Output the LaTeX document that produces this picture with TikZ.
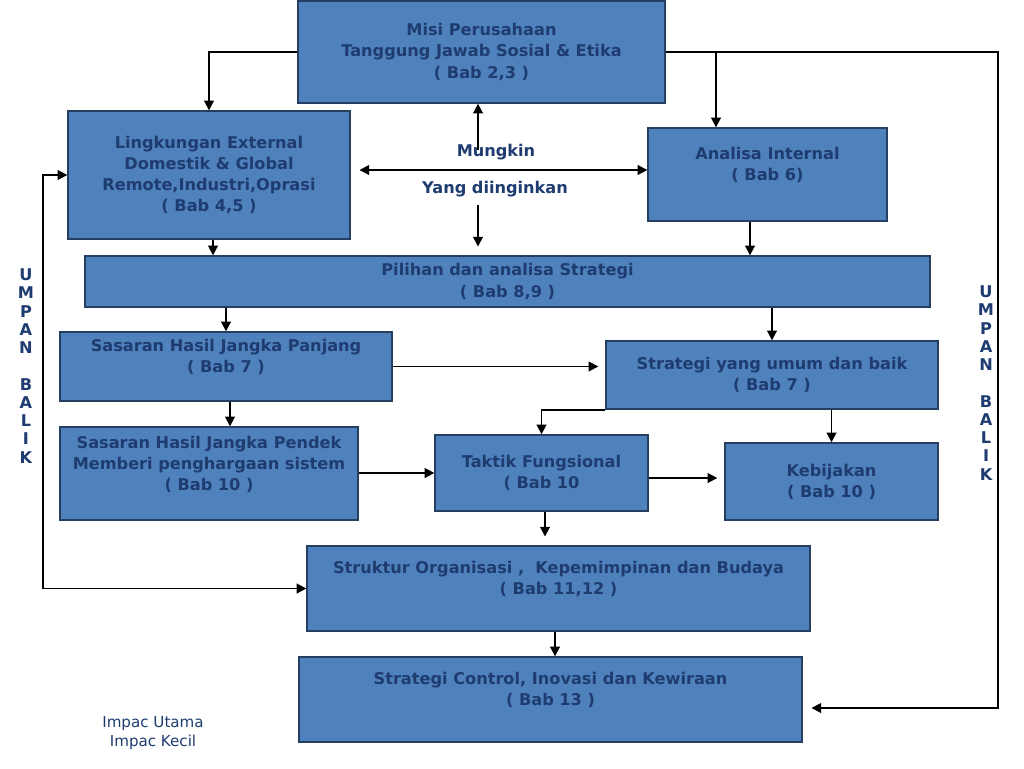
\documentclass[tikz,border=0pt]{standalone}
\usepackage{fontspec}
\setmainfont{DejaVu Sans}
\usetikzlibrary{arrows.meta,positioning}
\definecolor{boxblue}{HTML}{4F81BD}
\definecolor{boxline}{HTML}{243F60}
\definecolor{txtblue}{HTML}{1F3C70}

\begin{document}
\begin{tikzpicture}[
    x=0.02cm, y=-0.02cm,
    box/.style={rectangle,draw=boxline,fill=boxblue,line width=0.8pt,inner sep=0pt,align=center,text=txtblue,font=\fontsize{9.2}{12}\selectfont\bfseries},
    arr/.style={-{Triangle[length=5.5pt,width=5.5pt]},line width=1pt},
    darr/.style={{Triangle[length=5.5pt,width=5.5pt]}-{Triangle[length=5.5pt,width=5.5pt]},line width=1pt},
    lbl/.style={text=txtblue,font=\fontsize{9.2}{12}\selectfont\bfseries,align=center}
]
\useasboundingbox (0,0) rectangle (1024,768);

% boxes
\node[box,minimum width=7.34cm,minimum height=2.04cm] (misi) at (481.5,52) {Misi Perusahaan\\Tanggung Jawab Sosial \& Etika\\( Bab 2,3 )};
\node[box,minimum width=5.64cm,minimum height=2.56cm] (lingk) at (209,175) {Lingkungan External\\Domestik \& Global\\Remote,Industri,Oprasi\\( Bab 4,5 )};
\node[box,minimum width=4.78cm,minimum height=1.86cm] (intern) at (767.5,174.5) {Analisa Internal\\( Bab 6)\\ \mbox{}};
\node[box,minimum width=16.9cm,minimum height=1.02cm] (pilihan) at (507.5,281.5) {Pilihan dan analisa Strategi\\( Bab 8,9 )};
\node[box,minimum width=6.64cm,minimum height=1.38cm] (panjang) at (226,366.5) {Sasaran Hasil Jangka Panjang\\( Bab 7 )\\ \mbox{}};
\node[box,minimum width=6.64cm,minimum height=1.36cm] (umum) at (772,375) {Strategi yang umum dan baik\\( Bab 7 )};
\node[box,minimum width=5.96cm,minimum height=1.86cm] (pendek) at (209,473.5) {Sasaran Hasil Jangka Pendek\\Memberi penghargaan sistem\\( Bab 10 )\\ \mbox{}};
\node[box,minimum width=4.26cm,minimum height=1.52cm] (taktik) at (541.5,473) {Taktik Fungsional\\( Bab 10};
\node[box,minimum width=4.26cm,minimum height=1.54cm] (kebijakan) at (831.5,481.5) {Kebijakan\\( Bab 10 )};
\node[box,minimum width=10.06cm,minimum height=1.70cm] (struktur) at (558.5,588.5) {Struktur Organisasi ,\ \ Kepemimpinan dan Budaya\\( Bab 11,12 )\\ \mbox{}};
\node[box,minimum width=10.06cm,minimum height=1.70cm] (control) at (550.5,699.5) {Strategi Control, Inovasi dan Kewiraan\\( Bab 13 )\\ \mbox{}};

% labels
\node[lbl] (mungkin) at (496,152) {Mungkin};
\node[lbl] (yang) at (495,189) {Yang diinginkan};
\node[lbl,font=\fontsize{9.2}{10.4}\selectfont\bfseries] (umpanL) at (26,366) {U\\M\\P\\A\\N\\[10.4pt]B\\A\\L\\I\\K};
\node[lbl,font=\fontsize{9.2}{10.4}\selectfont\bfseries] (umpanR) at (986,383) {U\\M\\P\\A\\N\\[10.4pt]B\\A\\L\\I\\K};
\node[text=txtblue,font=\fontsize{8.6}{10.8}\selectfont,align=center] (impac) at (153,733) {Impac Utama\\Impac Kecil};

% top links
\coordinate (mu) at (478,150);
\coordinate (yd) at (478,205);
\draw[arr] (misi.west) -| (lingk.north);
\draw[arr] (misi.east) -| (intern.north -| 716,0);
\draw[arr,shorten >=5pt] (misi.east) -| (998,708) -- (control.east |- 0,708);
\draw[darr,shorten <=5pt] (lingk.east |- 0,170) -- (intern.west |- 0,170);
\draw[arr] (mu) -- (misi.south -| mu);
\draw[arr,shorten >=5pt] (yd) -- (pilihan.north -| yd);
\draw[arr] (lingk.south -| 213,0) -- (pilihan.north -| 213,0);
\draw[arr] (intern.south -| 750,0) -- (pilihan.north -| 750,0);

% middle links
\draw[arr] (panjang.north |- pilihan.south) -- (panjang.north);
\draw[arr] (umum.north |- pilihan.south) -- (umum.north);
\draw[arr,shorten >=4pt] (panjang.east) -- (umum.west |- panjang.east);
\draw[arr] (panjang.south -| 230,0) -- (pendek.north -| 230,0);
\draw[arr] (umum.south west) -| (taktik.north);
\draw[arr] (kebijakan.north |- umum.south) -- (kebijakan.north);
\draw[arr] (pendek.east |- taktik.west) -- (taktik.west);
\draw[arr,shorten >=4pt] (taktik.east |- 0,478) -- (kebijakan.west |- 0,478);
\draw[arr,shorten >=5pt] (taktik.south -| 545,0) -- (struktur.north -| 545,0);
\draw[arr] (struktur.south -| 555,0) -- (control.north -| 555,0);

% feedback
\draw[darr] (lingk.west) -| (struktur.west -| 43,0) -- (struktur.west);
\end{tikzpicture}
\end{document}
